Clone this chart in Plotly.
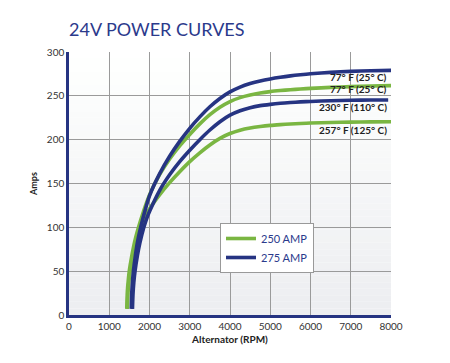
import plotly.graph_objects as go

# ---- data ----
rpm_250_77 = [1435, 1450, 1475, 1500, 1550, 1600, 1660, 1720, 1850, 2000, 2250, 2500, 2750, 3000, 3250, 3500, 3750, 4000, 4250, 4500, 4750, 5000, 5250, 5500, 5750, 6000, 6500, 7000, 7500, 8000]
amp_250_77 = [7, 27, 41, 51, 65, 77, 89, 99, 118, 137, 160, 178, 193, 206, 218, 228.5, 237, 243.5, 248, 251, 253.2, 254.8, 256, 257, 257.8, 258.5, 259.6, 260.5, 261.2, 261.7]

rpm_275_77 = [1548, 1560, 1580, 1600, 1650, 1700, 1780, 1900, 2000, 2250, 2500, 2750, 3000, 3250, 3500, 3750, 4000, 4250, 4500, 4750, 5000, 5250, 5500, 5750, 6000, 6500, 7000, 7500, 8000]
amp_275_77 = [7, 26, 40, 50, 68, 83, 100, 121, 136, 161, 181, 198, 213, 226, 237.5, 247, 254.5, 260, 264, 267, 269.3, 271.2, 272.8, 274.1, 275.2, 276.8, 277.9, 278.6, 279]

rpm_275_230 = [1577, 1590, 1610, 1640, 1700, 1760, 1860, 1930, 2000, 2250, 2500, 2750, 3000, 3250, 3500, 3750, 4000, 4250, 4500, 4750, 5000, 5250, 5500, 5750, 6000, 6500, 7000, 7500, 7930]
amp_275_230 = [7, 24, 37, 50, 68, 82, 100, 110, 118, 142, 160, 175, 188, 200, 211, 220.5, 228, 233, 236.5, 238.8, 240.3, 241.5, 242.4, 243.1, 243.6, 244.4, 244.9, 245.2, 245.3]

rpm_250_257 = [1452, 1465, 1490, 1520, 1570, 1640, 1720, 1800, 1900, 2000, 2250, 2500, 2750, 3000, 3250, 3500, 3750, 4000, 4250, 4500, 4750, 5000, 5250, 5500, 5750, 6000, 6500, 7000, 7500, 8000]
amp_250_257 = [7, 25, 39, 50, 63, 77, 90, 101, 112, 121, 137, 151, 163.5, 175, 185, 194, 201.5, 207, 210.8, 213.3, 215, 216.3, 217.2, 217.9, 218.5, 219, 219.6, 220, 220.3, 220.5]

curve_labels = ["77° F (25° C)", "77° F (25° C)", "230° F (110° C)", "257° F (125° C)"]
label_amps = [271, 258, 237, 211]
legend_names = ["250 AMP", "275 AMP"]

x_ticks = [0, 1000, 2000, 3000, 4000, 5000, 6000, 7000, 8000]
y_ticks = [0, 50, 100, 150, 200, 250, 300]

GREEN = "#7ab642"
NAVY = "#263482"

fig = go.Figure()

series = [
    (rpm_250_77, amp_250_77, GREEN, legend_names[0], True),
    (rpm_250_257, amp_250_257, GREEN, legend_names[0], False),
    (rpm_275_77, amp_275_77, NAVY, legend_names[1], True),
    (rpm_275_230, amp_275_230, NAVY, legend_names[1], False),
]
for xs, ys, col, name, show in series:
    fig.add_trace(go.Scatter(
        x=xs, y=ys, mode="lines", name=name, legendgroup=name, showlegend=show,
        line=dict(color=col, width=3.6, shape="spline", smoothing=0.8),
        hoverinfo="skip"))

# background gradient (white top -> light grey bottom)
shapes = []
n = 40
for i in range(n):
    t = i / (n - 1)
    c = int(255 - 18 * t)
    cb = int(255 - 14 * t)
    shapes.append(dict(type="rect", xref="paper", yref="paper",
                       x0=0, x1=1, y0=1 - (i + 1) / n, y1=1 - i / n,
                       fillcolor=f"rgb({c},{c+1},{cb})", line=dict(width=0),
                       layer="below"))

annotations = []
for txt, yv in zip(curve_labels, label_amps):
    annotations.append(dict(x=7940, y=yv, xref="x", yref="y", text=txt,
                            showarrow=False, xanchor="right", yanchor="middle",
                            font=dict(family="Lato", size=10, color="#222222", weight="bold")))

fig.update_layout(
    width=450, height=363,
    margin=dict(l=61, r=67, t=44, b=56, autoexpand=False),
    paper_bgcolor="white", plot_bgcolor="rgba(0,0,0,0)",
    title=dict(text="24V POWER CURVES", x=61 / 450, xanchor="left", y=1 - 22 / 363, yanchor="middle",
               font=dict(family="Lato", size=18, color="#2b3a8c")),
    shapes=shapes, annotations=annotations,
    legend=dict(x=(220 - 69) / 322, y=(315 - 223) / 263, xanchor="left", yanchor="top",
                bgcolor="white", bordercolor="#999999", borderwidth=1,
                font=dict(family="Lato", size=11, color="#2b3a8c"),
                tracegroupgap=0, itemwidth=30),
    showlegend=True,
)
fig.update_xaxes(range=[0, 8000], tickvals=x_ticks, showgrid=True, gridcolor="#9a9a9a", gridwidth=1,
                 showline=True, linecolor=NAVY, linewidth=2.5, zeroline=False, ticks="",
                 tickfont=dict(family="Lato", size=10, color="#333333"),
                 title=dict(text="<b>Alternator (RPM)</b>", font=dict(family="Lato", size=10, color="#222222"), standoff=6))
fig.update_yaxes(range=[0, 300], tickvals=y_ticks, showgrid=True, gridcolor="#9a9a9a", gridwidth=1,
                 showline=True, linecolor=NAVY, linewidth=2.5, zeroline=False, ticks="",
                 tickfont=dict(family="Lato", size=10, color="#333333"),
                 title=dict(text="<b>Amps</b>", font=dict(family="Lato", size=9, color="#222222"), standoff=8))

fig.write_html("out.html")
